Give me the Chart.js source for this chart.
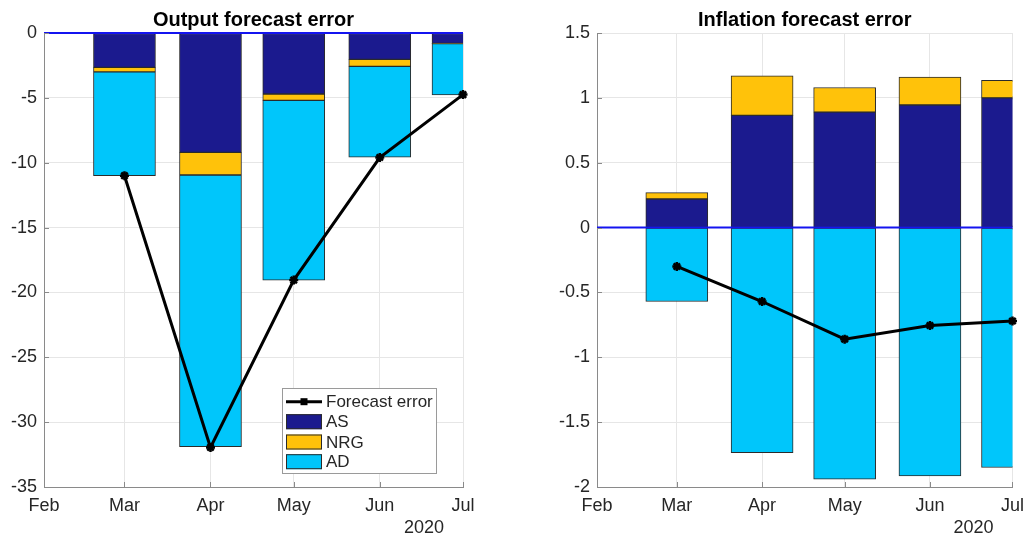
<!DOCTYPE html>
<html>
<head>
<meta charset="utf-8">
<script src="https://cdn.jsdelivr.net/npm/chart.js@4/dist/chart.umd.min.js"></script>
<style>
  html, body { margin: 0; padding: 0; background: #ffffff; }
  #wrap { position: relative; width: 1032px; height: 536px; overflow: hidden; }
  canvas { position: absolute; top: 0; }
  #outputChart { left: 0; }
  #inflationChart { left: 540px; }
</style>
</head>
<body>
<div id="wrap">
  <canvas id="outputChart" width="500" height="536"></canvas>
  <canvas id="inflationChart" width="492" height="536"></canvas>
</div>
<script>
// Month axis (datetime-style: ticks on the first of each month)
const tickMonths = ['Feb', 'Mar', 'Apr', 'May', 'Jun', 'Jul'];
const tickDates = ['2020-02-01', '2020-03-01', '2020-04-01', '2020-05-01', '2020-06-01', '2020-07-01'];
const barDates = ['2020-03-01', '2020-04-01', '2020-05-01', '2020-06-01', '2020-07-01'];
const yearLabel = '2020';

// Output forecast error decomposition
const outputAS = [-2.65, -9.2, -4.7, -2.03, -0.8];
const outputNRG = [-0.35, -1.75, -0.5, -0.54, -0.02];
const outputAD = [-8.0, -20.95, -13.85, -7.0, -3.95];
const outputError = [-11.0, -31.95, -19.05, -9.6, -4.75];

// Inflation forecast error decomposition
const inflationAS = [0.22, 0.865, 0.89, 0.945, 1.0];
const inflationNRG = [0.05, 0.305, 0.19, 0.215, 0.135];
const inflationAD = [-0.57, -1.735, -1.94, -1.915, -1.85];
const inflationError = [-0.30, -0.57, -0.86, -0.755, -0.72];

const seriesNames = ['Forecast error', 'AS', 'NRG', 'AD'];

const COLORS = {
  AS: '#1b1a8e',
  NRG: '#ffc20a',
  AD: '#00c6fb',
  edge: '#2b2b2b',
  line: '#000000',
  zero: '#1414f0',
  grid: '#e6e6e6',
  axis: '#8a8a8a',
  text: '#262626'
};
const FONT = "'Liberation Sans', Arial, Helvetica, sans-serif";

Chart.defaults.font.family = FONT;
Chart.defaults.color = COLORS.text;

// Days since the first tick date
const origin = Date.parse(tickDates[0]);
const toDay = d => (Date.parse(d) - origin) / 86400000;
const tickDays = tickDates.map(toDay);
const barDays = barDates.map(toDay);
const pts = vals => vals.map((v, i) => ({ x: barDays[i], y: v }));

// Shortest decimal form for value ticks: 1, 0.5, -1.5 ...
const fmtTick = v => String(Number(v.toFixed(2)));

// Title, zero baseline, inward tick marks, year label and in-axes legend
const panelDecor = {
  id: 'panelDecor',
  afterDatasetsDraw(chart, args, opts) {
    const { ctx, chartArea: a, scales: { y } } = chart;
    ctx.save();
    // blue baseline at zero
    const y0 = y.getPixelForValue(0);
    ctx.strokeStyle = COLORS.zero;
    ctx.lineWidth = 2;
    ctx.beginPath();
    ctx.moveTo(a.left, y0);
    ctx.lineTo(a.right, y0);
    ctx.stroke();
    ctx.restore();
  },
  afterDraw(chart, args, opts) {
    const { ctx, chartArea: a, scales: { x, y } } = chart;
    ctx.save();
    // inward tick marks
    ctx.strokeStyle = COLORS.axis;
    ctx.lineWidth = 1;
    ctx.beginPath();
    x.ticks.forEach(t => {
      const px = Math.round(x.getPixelForValue(t.value)) + 0.5;
      ctx.moveTo(px, a.bottom);
      ctx.lineTo(px, a.bottom - 5);
    });
    y.ticks.forEach(t => {
      const py = Math.round(y.getPixelForValue(t.value)) + 0.5;
      ctx.moveTo(a.left, py);
      ctx.lineTo(a.left + 5, py);
    });
    ctx.stroke();

    // title
    ctx.fillStyle = '#000000';
    ctx.font = 'bold 20px ' + FONT;
    ctx.textAlign = 'center';
    ctx.textBaseline = 'alphabetic';
    ctx.fillText(opts.title, (a.left + a.right) / 2, 26);

    // year label under the last months
    ctx.fillStyle = COLORS.text;
    ctx.font = '18px ' + FONT;
    ctx.textBaseline = 'middle';
    ctx.fillText(yearLabel, a.right - 39, 528);

    if (opts.legend) {
      const w = 154, h = 85;
      const left = a.right - 27 - w, top = a.bottom - 14 - h;
      ctx.fillStyle = '#ffffff';
      ctx.fillRect(left, top, w, h);
      ctx.strokeStyle = '#9a9a9a';
      ctx.lineWidth = 1;
      ctx.strokeRect(left + 0.5, top + 0.5, w, h);
      const rowY = [13.7, 33.7, 54, 73.7].map(r => top + r);
      const sx = left + 4, sw = 36;
      // line sample
      ctx.strokeStyle = COLORS.line;
      ctx.lineWidth = 3;
      ctx.beginPath();
      ctx.moveTo(sx, rowY[0]);
      ctx.lineTo(sx + sw, rowY[0]);
      ctx.stroke();
      ctx.fillStyle = COLORS.line;
      ctx.fillRect(sx + sw / 2 - 3.5, rowY[0] - 3.5, 7, 7);
      // patches
      [COLORS.AS, COLORS.NRG, COLORS.AD].forEach((c, i) => {
        const ry = rowY[i + 1];
        ctx.fillStyle = c;
        ctx.fillRect(sx, ry - 7.5, sw, 15);
        ctx.strokeStyle = COLORS.edge;
        ctx.lineWidth = 1;
        ctx.strokeRect(sx + 0.5, ry - 7.5 + 0.5, sw - 1, 14);
      });
      ctx.fillStyle = COLORS.text;
      ctx.font = '17px ' + FONT;
      ctx.textAlign = 'left';
      ctx.textBaseline = 'middle';
      seriesNames.forEach((n, i) => ctx.fillText(n, sx + sw + 4, rowY[i] + 1));
    }
    ctx.restore();
  }
};

function barSet(label, vals, color) {
  return {
    type: 'bar',
    label,
    data: pts(vals),
    backgroundColor: color,
    borderColor: COLORS.edge,
    borderWidth: 1,
    borderSkipped: false,
    barThickness: 62,
    stack: 'parts',
    order: 1,
    clip: 0
  };
}

function makePanel(id, p) {
  return new Chart(document.getElementById(id), {
    type: 'bar',
    data: {
      datasets: [
        {
          type: 'line',
          label: seriesNames[0],
          data: pts(p.err),
          borderColor: COLORS.line,
          backgroundColor: COLORS.line,
          borderWidth: 3,
          pointStyle: 'star',
          pointRadius: 4.5,
          pointBorderWidth: 2.5,
          pointBorderColor: COLORS.line,
          tension: 0,
          stack: 'total',
          order: 0,
          clip: false
        },
        barSet(seriesNames[1], p.as, COLORS.AS),
        barSet(seriesNames[2], p.nrg, COLORS.NRG),
        barSet(seriesNames[3], p.ad, COLORS.AD)
      ]
    },
    options: {
      responsive: false,
      animation: false,
      devicePixelRatio: 1,
      layout: { padding: { top: 33, right: p.padRight, left: 0, bottom: 0 } },
      plugins: {
        legend: { display: false },
        tooltip: { enabled: false },
        panelDecor: { title: p.title, legend: p.legend }
      },
      scales: {
        x: {
          type: 'linear',
          stacked: true,
          offset: false,
          min: tickDays[0],
          max: tickDays[tickDays.length - 1],
          afterBuildTicks: s => { s.ticks = tickDays.map(v => ({ value: v })); },
          afterFit: s => { s.height = 49; },
          grid: { color: COLORS.grid, drawTicks: false, offset: false },
          border: { display: true, color: COLORS.axis, width: 1 },
          ticks: {
            autoSkip: false,
            maxRotation: 0,
            padding: 8,
            font: { size: 18 },
            color: COLORS.text,
            callback: (v, i) => tickMonths[i]
          }
        },
        y: {
          type: 'linear',
          stacked: true,
          min: p.yMin,
          max: p.yMax,
          afterFit: s => { s.width = p.yWidth; },
          grid: { color: COLORS.grid, drawTicks: false },
          border: { display: true, color: COLORS.axis, width: 1 },
          ticks: {
            stepSize: p.step,
            padding: 7,
            font: { size: 18 },
            color: COLORS.text,
            callback: v => fmtTick(v)
          }
        }
      }
    },
    plugins: [panelDecor]
  });
}

makePanel('outputChart', {
  title: 'Output forecast error',
  as: outputAS, nrg: outputNRG, ad: outputAD, err: outputError,
  yMin: -35, yMax: 0, step: 5,
  yWidth: 44, padRight: 37, legend: true
});

makePanel('inflationChart', {
  title: 'Inflation forecast error',
  as: inflationAS, nrg: inflationNRG, ad: inflationAD, err: inflationError,
  yMin: -2, yMax: 1.5, step: 0.5,
  yWidth: 57, padRight: 18, legend: false
});
</script>
</body>
</html>
